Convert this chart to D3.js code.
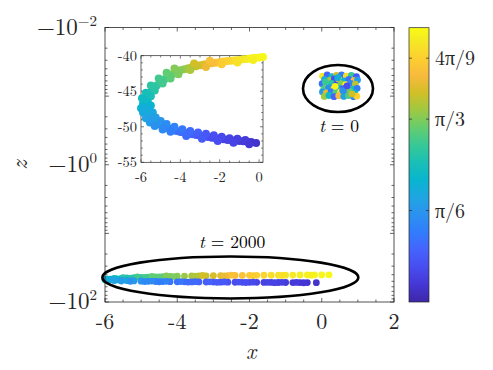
<!DOCTYPE html>
<html><head><meta charset="utf-8">
<script src="https://cdn.jsdelivr.net/npm/d3@7"></script>
<style>
body{margin:0;background:#fff}
svg{display:block}
</style>
</head><body><svg id="c" width="493" height="370"></svg>
<script>
// ---------- data ----------
const xTicks = [-6, -4, -2, 0, 2];
const xTickLabels = ["-6", "-4", "-2", "0", "2"];
const zTickExps = [-2, 0, 2];
const zTickLabels = [["−10", "−2"], ["−10", "0"], ["−10", "2"]];
const insetXTicks = [-6, -4, -2, 0];
const insetXTickLabels = ["-6", "-4", "-2", "0"];
const insetZTicks = [-40, -45, -50, -55];
const insetZTickLabels = ["-40", "-45", "-50", "-55"];
const cbarTicks = [Math.PI / 6, Math.PI / 3, 4 * Math.PI / 9];
const cbarTickLabels = [["", "π/6"], ["", "π/3"], ["4", "π/9"]];

// parula colormap (subset of MATLAB parula(64)), index/63 position
const parulaIdx = [0, 4, 8, 12, 16, 20, 24, 28, 32, 36, 40, 44, 48, 52, 56, 60, 63];
const parulaRGB = [
  [0.2422, 0.1504, 0.6603], [0.2706, 0.2147, 0.8364], [0.2813, 0.3006, 0.9414],
  [0.2699, 0.3892, 0.9906], [0.1963, 0.4847, 0.9892], [0.1687, 0.5703, 0.9359],
  [0.1248, 0.6459, 0.8883], [0.0297, 0.7082, 0.8163], [0.0964, 0.7500, 0.7120],
  [0.2161, 0.7843, 0.5923], [0.3909, 0.8029, 0.4354], [0.6174, 0.7876, 0.2612],
  [0.8203, 0.7498, 0.1535], [0.9728, 0.7298, 0.2394], [0.9892, 0.8136, 0.1885],
  [0.9597, 0.9135, 0.1423], [0.9769, 0.9839, 0.0805]
];

// state at t = 2000: [x, z, theta]
const stateT2000 = [
  [0.2,-40.2,1.56],[0.0,-40.25,1.55],[-0.2,-40.3,1.54],[-0.4,-40.35,1.53],[-0.6,-40.45,1.52],
  [-0.8,-40.5,1.50],[-1.0,-40.6,1.49],[-1.2,-40.65,1.47],[-1.4,-40.7,1.45],[-1.6,-40.75,1.42],
  [-1.8,-40.8,1.40],[-2.0,-40.9,1.37],[-2.2,-41.0,1.34],[-2.4,-41.05,1.31],[-2.6,-41.15,1.28],
  [-2.8,-41.25,1.24],[-3.0,-41.35,1.21],[-3.2,-41.5,1.18],[-3.4,-41.6,1.15],[-3.6,-41.75,1.12],
  [-3.8,-41.9,1.09],[-4.0,-42.05,1.06],[-4.2,-42.3,1.03],[-4.4,-42.6,1.00],[-4.6,-42.9,0.97],
  [-4.8,-43.3,0.93],[-5.0,-43.7,0.90],[-5.2,-44.2,0.87],[-5.4,-44.7,0.83],[-5.55,-45.2,0.80],
  [-5.7,-45.8,0.76],[-5.85,-46.4,0.72],[-5.9,-46.8,0.70],
  [-0.3,-40.6,1.52],[-1.1,-40.95,1.46],[-1.9,-41.2,1.38],[-2.7,-41.6,1.27],[-3.5,-42.0,1.13],
  [-4.1,-42.6,1.04],[-4.5,-43.2,0.98],[-4.9,-43.9,0.92],[-5.3,-44.9,0.85],[-5.5,-45.7,0.79],
  [-5.65,-46.5,0.74],[-5.5,-47.0,0.71],
  [-2.5,-40.7,1.33],[-3.3,-41.1,1.20],[-4.3,-41.8,1.05],[-4.7,-42.4,0.99],[-5.1,-43.2,0.92],
  [-5.5,-44.2,0.86],[-5.75,-45.2,0.79],[-5.95,-46.0,0.75],[-6.0,-47.4,0.68],
  [-5.8,-47.3,0.66],[-5.7,-47.8,0.62],[-5.55,-48.3,0.58],[-5.4,-48.8,0.55],[-5.2,-49.3,0.51],
  [-5.0,-49.7,0.48],[-4.8,-50.0,0.45],[-4.6,-50.25,0.42],[-4.4,-50.45,0.40],[-4.2,-50.6,0.37],
  [-4.0,-50.75,0.35],[-3.8,-50.85,0.33],[-3.6,-50.95,0.31],[-3.4,-51.05,0.29],[-3.2,-51.15,0.27],
  [-3.0,-51.25,0.25],[-2.8,-51.35,0.23],[-2.6,-51.45,0.22],[-2.4,-51.55,0.20],[-2.2,-51.6,0.19],
  [-2.0,-51.7,0.17],[-1.8,-51.75,0.16],[-1.6,-51.85,0.15],[-1.4,-51.9,0.14],[-1.2,-51.95,0.13],
  [-1.0,-52.0,0.12],[-0.8,-52.05,0.11],[-0.6,-52.1,0.10],[-0.4,-52.15,0.09],[-0.15,-52.3,0.08],
  [-5.6,-47.6,0.65],[-5.4,-48.0,0.62],[-5.25,-48.7,0.57],[-5.0,-49.2,0.52],[-4.7,-49.6,0.47],
  [-4.3,-50.0,0.43],[-3.9,-50.35,0.38],[-3.5,-50.6,0.33],[-3.1,-50.8,0.29],[-2.7,-51.0,0.25],
  [-2.3,-51.2,0.21],[-1.9,-51.4,0.18],[-1.5,-51.6,0.16],[-1.1,-51.7,0.14],[-0.7,-51.85,0.12],
  [-5.9,-48.0,0.63],[-5.75,-48.8,0.59],[-5.55,-49.4,0.55],[-5.3,-49.9,0.50],[-4.9,-50.4,0.46],
  [-4.5,-50.7,0.41],[-3.7,-51.3,0.33],[-2.9,-51.7,0.26],[-2.1,-52.0,0.20],[-1.3,-52.25,0.15],
  [-0.5,-52.45,0.10]
];

// state at t = 0: [x, z, theta]
const stateT0 = [
  [0.02,-0.051,1.50],[0.15,-0.049,0.30],[0.28,-0.052,0.75],[0.41,-0.050,1.20],[0.55,-0.049,0.40],
  [0.68,-0.051,1.45],[0.82,-0.050,0.90],[0.96,-0.052,0.25],
  [0.08,-0.057,0.60],[0.22,-0.059,1.10],[0.35,-0.056,0.20],[0.48,-0.058,1.40],[0.62,-0.060,0.70],
  [0.75,-0.057,0.35],[0.89,-0.059,1.30],[0.99,-0.058,0.55],
  [0.01,-0.066,0.35],[0.14,-0.068,1.35],[0.27,-0.065,0.85],[0.40,-0.069,0.15],[0.53,-0.066,1.05],
  [0.66,-0.068,1.50],[0.80,-0.065,0.45],[0.93,-0.067,1.15],
  [0.06,-0.078,0.95],[0.19,-0.075,0.50],[0.33,-0.079,1.45],[0.46,-0.076,0.65],[0.60,-0.078,0.25],
  [0.72,-0.076,1.20],[0.86,-0.079,0.80],[0.98,-0.077,0.40],
  [0.02,-0.087,0.55],[0.13,-0.090,1.25],[0.26,-0.086,0.40],[0.39,-0.089,0.95],[0.52,-0.087,1.50],
  [0.65,-0.090,0.30],[0.78,-0.086,1.00],[0.91,-0.089,0.70],
  [0.07,-0.101,1.10],[0.20,-0.098,0.75],[0.34,-0.102,0.30],[0.47,-0.099,1.30],[0.61,-0.101,0.60],
  [0.74,-0.098,0.95],[0.88,-0.102,0.45],[0.97,-0.100,1.40],
  [0.10,-0.062,0.90],[0.37,-0.072,1.55],[0.58,-0.083,0.50],[0.84,-0.093,1.20],[0.44,-0.054,0.65],
  [0.70,-0.071,0.20]
];

// annotations: ellipse centre in data units, radii in px; label anchor in data units
const annotTimes = ["2000", "0"];
const annotCx = [-2.53, 0.45];
const annotCz = [-43.9, -0.0774];
const annotLabelX = [-2.48, 0.48];
const annotLabelZ = [-16.3, -0.333];

// ---------- layout ----------
const svg = d3.select("#c");
const ink = "#262626";
const FONT = "'Latin Modern Roman', 'Liberation Serif', serif";
const M = {l: 105, r: 394, t: 27.5, b: 302};
const x = d3.scaleLinear().domain([-6, 2]).range([M.l, M.r]);
const y = d3.scaleLog().domain([0.01, 100]).range([M.t, M.b]); // applied to -z
const yz = z => y(-z);

const pos = parulaIdx.map(i => i / 63);
const cols = parulaRGB.map(c => d3.rgb(c[0]*255, c[1]*255, c[2]*255).formatHex());
const cmap = d3.scaleLinear().domain(pos).range(cols).interpolate(d3.interpolateRgb).clamp(true);
const cnorm = d3.scaleLinear().domain([0, Math.PI / 2]).range([0, 1]).clamp(true);
const color = th => cmap(cnorm(th));

function txt(parent, px, py, size, anchor, fill) {
  return parent.append("text").attr("x", px).attr("y", py).attr("font-size", size)
    .attr("text-anchor", anchor || "start").attr("fill", fill || ink).style("font-family", FONT);
}

// ---------- main axes ----------
const g = svg.append("g");
g.append("rect").attr("x", M.l).attr("y", M.t).attr("width", M.r - M.l).attr("height", M.b - M.t)
  .attr("fill", "#fff");

function ticks(parent, xs, ys, vals, scale, side, len) {
  vals.forEach(v => {
    const p = scale(v);
    if (side === "b") parent.append("line").attr("x1", p).attr("x2", p).attr("y1", ys[1]).attr("y2", ys[1] - len);
    if (side === "t") parent.append("line").attr("x1", p).attr("x2", p).attr("y1", ys[0]).attr("y2", ys[0] + len);
    if (side === "l") parent.append("line").attr("y1", p).attr("y2", p).attr("x1", xs[0]).attr("x2", xs[0] + len);
    if (side === "r") parent.append("line").attr("y1", p).attr("y2", p).attr("x1", xs[1]).attr("x2", xs[1] - len);
  });
}
const tg = g.append("g").attr("stroke", ink).attr("stroke-width", 0.7);
const xMinor = d3.range(-6, 2.001, 0.5).filter(v => !xTicks.includes(v));
["b", "t"].forEach(s => {
  ticks(tg, [M.l, M.r], [M.t, M.b], xTicks, x, s, 4);
  ticks(tg, [M.l, M.r], [M.t, M.b], xMinor, x, s, 2.5);
});
const decades = d3.range(-2, 3).map(e => Math.pow(10, e));
const logMinor = [];
d3.range(-2, 2).forEach(e => d3.range(2, 10).forEach(m => logMinor.push(m * Math.pow(10, e))));
["l", "r"].forEach(s => {
  ticks(tg, [M.l, M.r], [M.t, M.b], decades, y, s, 4);
  ticks(tg, [M.l, M.r], [M.t, M.b], logMinor, y, s, 2.5);
});

// data: t = 2000 band and t = 0 cluster
g.append("g").selectAll("circle").data(stateT2000).join("circle")
  .attr("cx", d => x(d[0])).attr("cy", d => yz(d[1])).attr("r", 3.4)
  .attr("fill", d => color(d[2]));
g.append("g").selectAll("circle").data(stateT0).join("circle")
  .attr("cx", d => x(d[0])).attr("cy", d => yz(d[1])).attr("r", 3.4)
  .attr("fill", d => color(d[2]));

g.append("rect").attr("x", M.l).attr("y", M.t).attr("width", M.r - M.l).attr("height", M.b - M.t)
  .attr("fill", "none").attr("stroke", ink).attr("stroke-width", 0.8);

// tick labels
xTicks.forEach((v, i) => txt(g, x(v), 329, 22, "middle").text(xTickLabels[i]));
zTickExps.forEach((e, i) => {
  const t = txt(g, 97, y(Math.pow(10, e)) + 7, 23, "end");
  t.append("tspan").text(zTickLabels[i][0]);
  t.append("tspan").attr("dy", -9).attr("font-size", 15).text(zTickLabels[i][1]);
});
txt(g, 251, 359, 22, "middle").attr("font-style", "italic").text("x");
g.append("text").attr("transform", "translate(27,165) rotate(-90)").attr("text-anchor", "middle")
  .attr("fill", ink).attr("font-size", 23).attr("font-style", "italic").style("font-family", FONT).text("z");

// annotations
const ellRx = [128, 35], ellRy = [21, 23.5];
annotTimes.forEach((tLabel, i) => {
  g.append("ellipse").attr("cx", x(annotCx[i])).attr("cy", yz(annotCz[i]))
    .attr("rx", ellRx[i]).attr("ry", ellRy[i]).attr("fill", "none")
    .attr("stroke", "#000").attr("stroke-width", 2.6);
  const t = txt(g, x(annotLabelX[i]), yz(annotLabelZ[i]), 17.5, "middle", "#000");
  t.append("tspan").attr("font-style", "italic").text("t");
  t.append("tspan").text(" = " + tLabel);
});

// ---------- inset ----------
const I = {l: 141, r: 263, t: 55.7, b: 162.3};
const ix = d3.scaleLinear().domain([-6, 0.2]).range([I.l, I.r]);
const iy = d3.scaleLinear().domain([-55, -40]).range([I.b, I.t]);
const ig = svg.append("g");
ig.append("rect").attr("x", I.l).attr("y", I.t).attr("width", I.r - I.l).attr("height", I.b - I.t)
  .attr("fill", "#fff");
const itg = ig.append("g").attr("stroke", ink).attr("stroke-width", 0.6);
const ixMinor = d3.range(-6, 0.001, 0.5).filter(v => !insetXTicks.includes(v));
const izMinor = d3.range(-55, -39.99, 1).filter(v => !insetZTicks.includes(v));
["b", "t"].forEach(s => {
  ticks(itg, [I.l, I.r], [I.t, I.b], insetXTicks, ix, s, 3);
  ticks(itg, [I.l, I.r], [I.t, I.b], ixMinor, ix, s, 1.8);
});
["l", "r"].forEach(s => {
  ticks(itg, [I.l, I.r], [I.t, I.b], insetZTicks, iy, s, 3);
  ticks(itg, [I.l, I.r], [I.t, I.b], izMinor, iy, s, 1.8);
});
ig.append("rect").attr("x", I.l).attr("y", I.t).attr("width", I.r - I.l).attr("height", I.b - I.t)
  .attr("fill", "none").attr("stroke", ink).attr("stroke-width", 0.7);
ig.append("g").selectAll("circle").data(stateT2000).join("circle")
  .attr("cx", d => ix(d[0])).attr("cy", d => iy(d[1])).attr("r", 4)
  .attr("fill", d => color(d[2]));
insetXTicks.forEach((v, i) => txt(ig, ix(v), 182, 14.5, "middle").text(insetXTickLabels[i]));
insetZTicks.forEach((v, i) => txt(ig, 137, iy(v) + 4.8, 14.5, "end").text(insetZTickLabels[i]));

// ---------- colorbar ----------
const C = {l: 409, r: 429, t: 27.7, b: 302};
const cy = d3.scaleLinear().domain([0, Math.PI / 2]).range([C.b, C.t]);
const defs = svg.append("defs");
const grad = defs.append("linearGradient").attr("id", "cb").attr("x1", 0).attr("y1", 1).attr("x2", 0).attr("y2", 0);
pos.forEach((p, i) => grad.append("stop").attr("offset", p).attr("stop-color", cols[i]));
svg.append("rect").attr("x", C.l).attr("y", C.t).attr("width", C.r - C.l).attr("height", C.b - C.t)
  .attr("fill", "url(#cb)").attr("stroke", ink).attr("stroke-width", 0.7);
cbarTicks.forEach((v, i) => {
  svg.append("line").attr("x1", C.r).attr("x2", C.r - 3).attr("y1", cy(v)).attr("y2", cy(v))
    .attr("stroke", ink).attr("stroke-width", 0.7);
  svg.append("line").attr("x1", C.l).attr("x2", C.l + 3).attr("y1", cy(v)).attr("y2", cy(v))
    .attr("stroke", ink).attr("stroke-width", 0.7);
  const t = txt(svg, 435, cy(v) + 7, 20);
  if (cbarTickLabels[i][0]) t.append("tspan").text(cbarTickLabels[i][0]);
  t.append("tspan").text(cbarTickLabels[i][1]);
});
</script>
</body></html>
